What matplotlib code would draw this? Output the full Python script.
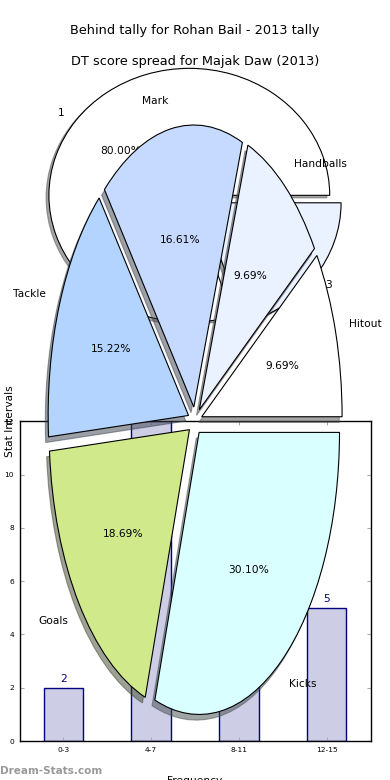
import matplotlib
matplotlib.use('Agg')
import matplotlib.pyplot as plt

# behind tally pie (Rohan Bail)
behind_labels = ['1', '3']
behind_counts = [4, 1]

# DT score spread pie (Majak Daw)
dt_labels = ['Hitout', 'Handballs', 'Mark', 'Tackle', 'Goals', 'Kicks']
dt_counts = [28, 28, 48, 44, 54, 87]

# frequency bars
freq_labels = ['0-3', '4-7', '8-11', '12-15']
freq_values = [2, 12, 7, 5]

slice_colors = ['#ffffff', '#eaf1ff', '#c6daff', '#b3d4ff', '#d0e98b', '#d9ffff']
wedge_style = {'edgecolor': 'black', 'linewidth': 0.8}
# old-style shadow offset (0.02 data units, Shadow rescales by dpi/72)
shadow_style = {'ox': -0.0144, 'oy': -0.0144}

fig = plt.figure(figsize=(3.9, 7.8), dpi=100)

# first pie
ax1 = fig.add_axes([0.05, 0.5413, 0.9, 0.407])
ax1.pie(behind_counts, labels=behind_labels, colors=slice_colors[:2],
        explode=[0.05] * len(behind_counts), shadow=shadow_style, autopct='%.2f%%',
        wedgeprops=wedge_style, textprops={'fontsize': 7.7})
ax1.set_aspect('auto')
ax1.set_xlim(-1.25, 1.25)
ax1.set_ylim(-1.25, 1.25)
ax1.set_title('Behind tally for Rohan Bail - 2013 tally', fontsize=9.3, pad=4.3)

# bar chart
ax3 = fig.add_axes([0.05, 0.05, 0.9, 0.41])
xs = list(range(len(freq_labels)))
ax3.bar(xs, freq_values, width=0.45, color='#cdcde6', edgecolor='#000080', linewidth=1)
for x, v in zip(xs, freq_values):
    ax3.text(x, v + 0.15, str(v), ha='center', va='bottom', color='#000080', fontsize=7.7)
ax3.set_xlim(-0.5, 3.5)
ax3.set_ylim(0, 12)
ax3.set_yticks(range(0, 13, 2))
ax3.set_xticks(xs)
ax3.set_xticklabels(freq_labels)
ax3.tick_params(direction='in', length=3, color='#aaaaaa', top=True, right=True,
                labelsize=5.4, pad=4)
for sp in ax3.spines.values():
    sp.set_linewidth(1)
ax3.set_xlabel('Frequency', fontsize=7.7)
ax3.xaxis.set_label_coords(0.5, -0.109)
ax3.set_ylabel('Stat Intervals', fontsize=7.7)
ax3.yaxis.set_label_coords(-0.014, 1.0)

# second pie, drawn on top
ax2 = fig.add_axes([0.05, 0.0083, 0.9, 0.904])
ax2.pie(dt_counts, labels=dt_labels, colors=slice_colors,
        explode=[0.05] * len(dt_counts), shadow=shadow_style, autopct='%.2f%%',
        wedgeprops=wedge_style, textprops={'fontsize': 7.7})
ax2.set_aspect('auto')
ax2.set_xlim(-1.25, 1.25)
ax2.set_ylim(-1.25, 1.25)
ax2.set_title('DT score spread for Majak Daw (2013)', fontsize=9.3, pad=2.5)

fig.text(0.0, 0.0115, 'Dream-Stats.com', color='#999999', fontsize=7.5,
         fontweight='bold', ha='left', va='center')

fig.savefig('out.png', dpi=100)
